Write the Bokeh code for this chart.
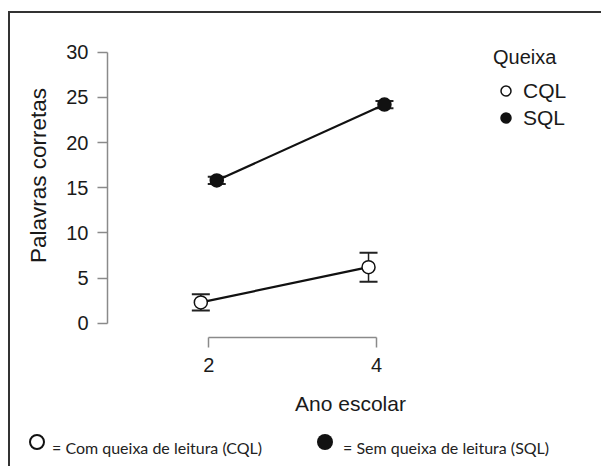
from bokeh.plotting import figure
from bokeh.models import (ColumnDataSource, Range1d, Whisker, TeeHead, Legend,
                          LegendItem, FixedTicker, Div)
from bokeh.layouts import column
from bokeh.embed import file_html
from bokeh.resources import INLINE

# ---- data ----
grades = [2, 4]
groups = ["CQL", "SQL"]
cql_mean = [2.3, 6.2]
cql_err = [0.9, 1.6]
sql_mean = [15.8, 24.2]
sql_err = [0.4, 0.4]
y_ticks = [0, 5, 10, 15, 20, 25, 30]
x_ticks = [2, 4]
x_title = "Ano escolar"
y_title = "Palavras corretas"
legend_title = "Queixa"
note_cql = "= Com queixa de leitura (CQL)"
note_sql = "= Sem queixa de leitura (SQL)"

# ---- style ----
DODGE = 0.095
FONT = "Liberation Sans"
INK = "#111111"
AXIS_C = "#8a8a8a"

p = figure(width=583, height=407, output_backend="svg", toolbar_location=None,
           x_range=Range1d(0.792, 6.588), y_range=Range1d(-1.583, 34.28),
           min_border_left=97, min_border_right=0, min_border_top=0,
           min_border_bottom=83)
p.outline_line_color = None
p.grid.visible = False
p.background_fill_color = "white"
p.border_fill_color = "white"

def make_src(means, errs, off):
    return ColumnDataSource(dict(
        x=[g + off for g in grades],
        y=means,
        upper=[m + e for m, e in zip(means, errs)],
        lower=[m - e for m, e in zip(means, errs)],
    ))

src_c = make_src(cql_mean, cql_err, -DODGE)
src_s = make_src(sql_mean, sql_err, DODGE)

renderers = {}
for name, src, fill in [("CQL", src_c, "white"), ("SQL", src_s, INK)]:
    p.line("x", "y", source=src, line_color=INK, line_width=2.2)
    w = Whisker(base="x", upper="upper", lower="lower", source=src,
                dimension="height", line_color="#222222", line_width=1.5,
                upper_head=TeeHead(size=18, line_color="#222222", line_width=2),
                lower_head=TeeHead(size=18, line_color="#222222", line_width=2),
                level="underlay")
    p.add_layout(w)
    r = p.scatter("x", "y", source=src, marker="circle", size=13,
                  fill_color=fill, line_color=INK, line_width=1.5)
    renderers[name] = r

# axes
for ax in (p.xaxis[0], p.yaxis[0]):
    ax.axis_line_color = AXIS_C
    ax.axis_line_width = 1.5
    ax.major_tick_line_color = AXIS_C
    ax.major_tick_line_width = 1.5
    ax.major_tick_in = 0
    ax.major_tick_out = 10
    ax.minor_tick_line_color = None
    ax.major_label_text_font = FONT
    ax.major_label_text_font_size = "20px"
    ax.major_label_text_color = "#1a1a1a"
    ax.axis_label_text_font = FONT
    ax.axis_label_text_font_size = "21px"
    ax.axis_label_text_font_style = "normal"
    ax.axis_label_text_color = "#1a1a1a"

p.xaxis.ticker = FixedTicker(ticks=x_ticks)
p.xaxis.bounds = (x_ticks[0], x_ticks[-1])
p.xaxis.axis_label = x_title
p.xaxis.major_label_standoff = 10
p.xaxis.axis_label_standoff = 17

p.yaxis.ticker = FixedTicker(ticks=y_ticks)
p.yaxis.bounds = (y_ticks[0], y_ticks[-1])
p.yaxis.axis_label = y_title
p.yaxis.axis_label_text_font_size = "22.5px"
p.yaxis.major_label_standoff = 9
p.yaxis.axis_label_standoff = 12

legend = Legend(items=[LegendItem(label=g, renderers=[renderers[g]]) for g in groups],
                title=legend_title, location=(386, 207),
                border_line_color=None, background_fill_alpha=0,
                padding=0, margin=0, glyph_width=25, glyph_height=25,
                label_height=25, label_standoff=5, spacing=2,
                label_text_font=FONT, label_text_font_size="21px",
                label_text_color="#1a1a1a",
                title_text_font=FONT, title_text_font_size="20px",
                title_text_font_style="normal", title_text_color="#1a1a1a",
                title_standoff=9)
p.add_layout(legend)

note_html = f"""
<div style="position:relative;width:583px;height:36px;font-family:Lato,sans-serif;
font-size:16px;line-height:16px;color:#222;">
<span style="position:absolute;left:14px;top:9px;width:16px;height:16px;box-sizing:border-box;
border:2px solid #111;border-radius:50%;background:white;"></span>
<span style="position:absolute;left:37px;top:15px;white-space:nowrap;">{note_cql}</span>
<span style="position:absolute;left:302px;top:9px;width:16px;height:16px;box-sizing:border-box;
border-radius:50%;background:#111;"></span>
<span style="position:absolute;left:328px;top:15px;white-space:nowrap;">{note_sql}</span>
</div>
"""
note = Div(text=note_html, width=583, height=36)

layout = column(p, note, spacing=0,
                styles={"border-top": "2px solid #333", "border-left": "2px solid #333",
                        "margin-top": "11px", "margin-left": "8px"})

open("out.html", "w").write(file_html(layout, INLINE))
